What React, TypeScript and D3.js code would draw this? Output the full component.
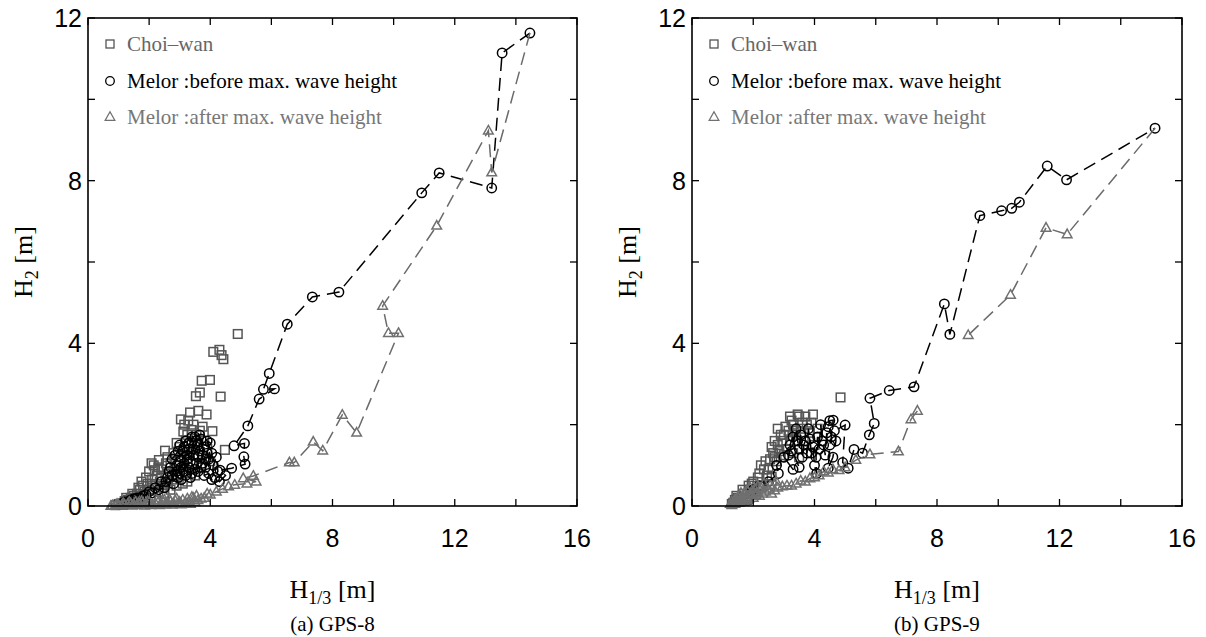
import React from "react";
import * as d3 from "d3";

type P = [number, number] | null;

const xTickVals = [0, 2, 4, 6, 8, 10, 12, 14, 16];
const xTickLabels = [0, 4, 8, 12, 16];
const yTickVals = [0, 2, 4, 6, 8, 10, 12];
const yTickLabels = [0, 4, 8, 12];
const legendLabels = ["Choi–wan", "Melor :before max. wave height", "Melor :after max. wave height"];
const captions = ["(a) GPS-8", "(b) GPS-9"];

// GPS-8 (left)
const gps8Choi: P[] = [
  [4.9, 4.23], [4.1, 3.79], [4.3, 3.84], [4.37, 3.71], [4.43, 3.61], [3.72, 3.08], [3.99, 3.1], [3.66, 2.79],
  [3.53, 2.7], [4.34, 2.69], [3.34, 2.3], [3.61, 2.34], [3.88, 2.25], [3.04, 2.13], [3.28, 2.1], [3.12, 1.83],
  [3.39, 1.87], [3.66, 1.85], [4.07, 1.84], [4.48, 1.38], [2.52, 1.36], [2.32, 1.13], [2.08, 1.05], [2.19, 0.88],
  [3.2, 1.6], [3.5, 1.55], [3.8, 1.6], [3.0, 1.45], [2.8, 1.3], [3.3, 1.3], [3.6, 1.25], [3.9, 1.4],
  [2.7, 1.05], [2.95, 1.0], [3.4, 1.05], [3.7, 1.0], [4.0, 1.1], [2.4, 0.9], [2.6, 0.8], [2.9, 0.75],
  [3.2, 0.8], [3.5, 0.75], [2.1, 0.65], [2.35, 0.6], [2.6, 0.55], [2.9, 0.5], [3.1, 0.55], [1.8, 0.5],
  [2.0, 0.4], [2.3, 0.35], [2.5, 0.3], [1.6, 0.3], [1.8, 0.25], [2.05, 0.2], [1.4, 0.2], [1.6, 0.15],
  [1.2, 0.12], [1.4, 0.08], [1.0, 0.05], [1.15, 0.03], [0.9, 0.02], [2.2, 0.5], [1.9, 0.7], [2.75, 0.65],
  [3.25, 0.6], [2.0, 0.85], [2.25, 0.75], [1.95, 0.55], [2.15, 1.0], [3.45, 2.0], [3.15, 2.0], [3.75, 1.95],
  [1.7, 0.4], [1.5, 0.25], [1.3, 0.15], [1.75, 0.6], [2.45, 0.45], [2.7, 0.4], [2.85, 0.9], [3.05, 1.2],
  [2.55, 1.05], [2.3, 0.95], [1.85, 0.35], [2.1, 0.5], [2.4, 0.7], [1.65, 0.45], [1.45, 0.3], [1.25, 0.2],
  [3.55, 1.75], [3.25, 1.75], [2.9, 1.55], [2.6, 1.2],
];
const gps8Before: P[] = [
  [1.0, 0.05], [1.1, 0.06], [1.2, 0.08], [1.2, 0.1], [1.35, 0.12], [1.4, 0.15], [1.5, 0.18], [1.6, 0.2],
  [1.7, 0.2], [1.8, 0.25], [1.9, 0.28], [2.0, 0.35], [2.1, 0.32], [2.2, 0.45], [2.3, 0.4], [2.5, 0.45],
  [2.4, 0.6], [2.55, 0.6], [2.6, 0.7], [2.8, 0.55], [2.75, 0.75], [2.65, 0.85], [2.7, 0.95], [2.9, 0.85],
  [2.95, 0.7], [3.05, 0.65], [3.0, 0.8], [3.0, 1.1], [2.9, 1.0], [3.05, 0.95], [3.15, 1.05], [2.75, 1.15],
  [2.85, 1.25], [2.95, 1.35], [3.1, 1.35], [3.15, 1.45], [3.0, 1.5], [3.2, 1.6], [3.3, 1.55], [3.3, 1.4],
  [3.25, 1.25], [3.15, 1.2], [3.25, 1.15], [3.35, 1.1], [3.1, 0.9], [3.4, 0.8], [3.35, 0.7], [3.4, 1.55],
  [3.45, 1.4], [3.55, 1.6], [3.5, 1.7], [3.4, 1.7], [3.65, 1.75], [3.6, 1.5], [3.45, 1.25], [3.55, 1.05],
  [3.65, 1.35], [3.7, 1.65], [3.75, 1.25], [3.8, 1.45], [3.6, 1.2], [3.75, 1.05], [3.85, 1.15], [3.9, 1.3],
  [3.95, 1.15], [4.0, 1.55], [3.9, 1.6], [4.05, 1.3], [3.85, 0.95], [3.7, 0.95], [3.5, 0.9], [3.3, 0.95],
  [3.2, 0.75], [3.6, 0.85], [3.8, 0.75], [3.95, 0.8], [4.05, 0.65], [4.1, 1.0], [4.2, 1.2], [4.25, 0.85],
  [4.15, 0.7], [4.3, 0.6], [4.5, 0.75], [4.32, 0.88], [4.7, 0.93], [5.14, 1.03], [5.1, 1.21], [5.12, 1.54],
  [4.78, 1.48], [5.23, 1.97], [5.6, 2.63], [6.1, 2.88], [5.74, 2.87], [5.93, 3.26], [6.52, 4.47], [7.34, 5.14],
  [8.21, 5.26], [10.92, 7.7], [11.49, 8.19], [13.21, 7.82], [13.55, 11.14], [14.46, 11.63],
];
const gps8After: P[] = [
  [14.46, 11.63], [13.21, 8.2], [13.1, 9.23], [11.41, 6.89], [9.64, 4.92], [9.83, 4.25], [10.16, 4.25], [8.79, 1.8],
  [8.32, 2.24], [7.68, 1.36], [7.37, 1.58], [6.75, 1.07], [6.59, 1.07], [5.41, 0.74], [5.08, 0.68], [5.5, 0.6],
  [5.2, 0.55], [4.8, 0.52], [4.6, 0.48], [4.4, 0.42], [4.2, 0.35], [4.0, 0.28], [3.9, 0.3], [3.8, 0.2],
  [3.7, 0.18], [3.6, 0.14], [3.55, 0.25], [3.5, 0.1], [3.45, 0.2], [3.3, 0.12], [3.4, 0.22], [3.35, 0.05],
  [3.2, 0.08], [3.25, 0.18], [3.1, 0.15], [3.0, 0.1], [3.05, 0.04], [2.9, 0.18], [2.95, 0.06], [2.8, 0.06],
  [2.85, 0.14], [2.7, 0.12], [2.75, 0.03], [2.6, 0.08], [2.65, 0.17], [2.5, 0.15], [2.55, 0.04], [2.4, 0.05],
  [2.45, 0.12], [2.3, 0.1], [2.35, 0.02], [2.2, 0.07], [2.25, 0.14], [2.1, 0.04], [2.0, 0.1], [2.05, 0.02],
  [1.9, 0.04], [1.95, 0.12], [1.8, 0.08], [1.85, 0.01], [1.7, 0.06], [1.75, 0.12], [1.6, 0.03], [1.65, 0.08],
  [1.5, 0.03], [1.55, 0.1], [1.4, 0.06], [1.45, 0.01], [1.3, 0.05], [1.35, 0.1], [1.2, 0.03], [1.1, 0.02],
  [1.15, 0.07], [1.0, 0.03], [0.9, 0.01], [0.95, 0.05], [0.8, 0.01], [0.75, 0.0],
];

// GPS-9 (right)
const gps9Choi: P[] = [
  [4.85, 2.67], [3.2, 2.2], [3.45, 2.25], [3.7, 2.2], [3.95, 2.25], [3.3, 2.0], [3.6, 2.05], [2.8, 1.9],
  [3.0, 1.75], [3.2, 1.6], [2.8, 1.5], [3.1, 1.4], [2.9, 1.2], [2.76, 1.1], [3.3, 1.3], [3.5, 1.2],
  [2.4, 1.1], [2.5, 0.9], [2.2, 0.8], [2.6, 0.72], [2.0, 0.6], [2.3, 0.5], [1.9, 0.4], [2.1, 0.3],
  [1.7, 0.3], [1.5, 0.2], [1.6, 0.12], [1.35, 0.08], [1.3, 0.05], [1.8, 0.15], [3.85, 1.8], [4.0, 1.5],
  [4.1, 1.9], [2.95, 1.6], [3.4, 1.75], [3.65, 1.6], [2.65, 1.3], [2.45, 0.75], [2.25, 1.0], [1.95, 0.55],
  [3.05, 1.95], [2.9, 1.75], [2.7, 1.6], [2.6, 1.45], [2.85, 1.35], [3.0, 1.25], [2.7, 1.2], [2.55, 1.15],
  [3.15, 1.85], [3.35, 1.85], [3.55, 1.9], [3.75, 2.0], [3.9, 2.05], [3.5, 2.2], [3.25, 2.1], [2.35, 0.9],
  [2.15, 0.7], [1.85, 0.5], [1.65, 0.4], [1.45, 0.25], [1.4, 0.15], [1.55, 0.1], [1.75, 0.2], [2.0, 0.35],
];
const gps9Before: P[] = [
  [1.8, 0.3], [2.0, 0.4], [2.2, 0.5], [2.5, 0.6], [2.82, 0.8], [2.76, 1.0], [3.0, 1.2], [3.3, 0.9],
  [3.5, 0.95], [3.2, 1.5], [3.3, 1.7], [3.15, 1.25], [3.25, 1.35], [3.4, 1.9], [3.45, 1.6], [3.5, 1.4],
  [3.55, 1.75], [3.6, 1.2], [3.65, 1.5], [3.7, 1.6], [3.75, 1.3], [3.8, 1.9], [3.85, 1.65], [3.9, 1.3],
  [3.95, 1.45], [4.0, 1.0], [4.07, 0.8], [4.05, 1.2], [4.1, 1.7], [4.15, 1.4], [4.2, 2.0], [4.25, 1.6],
  [4.3, 1.5], [4.35, 1.25], [4.4, 1.8], [4.45, 1.95], [4.5, 2.1], [4.61, 2.11], [4.55, 1.7], [4.5, 1.5],
  [4.45, 0.93], [4.6, 1.2], [4.7, 1.6], [4.65, 1.85], [5.0, 1.99], [4.92, 1.07], [5.1, 0.93], [5.29, 1.39],
  [5.57, 1.3], [5.79, 1.75], [5.95, 2.03], [5.81, 2.65], [6.44, 2.84], [7.25, 2.93], [8.24, 4.97], [8.42, 4.22],
  [9.4, 7.14], [10.11, 7.26], [10.44, 7.32], [10.69, 7.47], [11.6, 8.36], [12.23, 8.02], [15.12, 9.29],
];
const gps9After: P[] = [
  [15.12, 9.29], [12.25, 6.68], [11.56, 6.84], [10.4, 5.19], [9.02, 4.2], null, [7.36, 2.34], [7.15, 2.13],
  [6.74, 1.34], [5.81, 1.27], [5.35, 1.13], [5.0, 0.95], [4.8, 0.88], [4.6, 0.9], [4.45, 0.82], [4.3, 0.85],
  [4.15, 0.75], [4.0, 0.7], [3.85, 0.68], [3.7, 0.6], [3.55, 0.62], [3.4, 0.55], [3.25, 0.5], [3.1, 0.5],
  [2.95, 0.48], [2.8, 0.45], [2.75, 0.6], [2.7, 0.38], [2.6, 0.3], [2.55, 0.5], [2.5, 0.4], [2.4, 0.35],
  [2.35, 0.55], [2.3, 0.3], [2.25, 0.45], [2.2, 0.25], [2.15, 0.5], [2.1, 0.32], [2.05, 0.42], [2.0, 0.2],
  [1.95, 0.28], [1.9, 0.3], [1.9, 0.45], [1.85, 0.18], [1.8, 0.15], [1.8, 0.38], [1.75, 0.22], [1.7, 0.1],
  [1.7, 0.3], [1.65, 0.16], [1.6, 0.2], [1.6, 0.32], [1.55, 0.12], [1.5, 0.08], [1.5, 0.22], [1.45, 0.1],
  [1.4, 0.05], [1.4, 0.16], [1.35, 0.07], [1.3, 0.02], [1.25, 0.05],
];

const SQ_COLOR = "#555";
const TRI_COLOR = "#707070";
const LINE_GRAY = "#6a6a6a";
const SERIF = "'Liberation Serif', 'Times New Roman', serif";
const SANS = "'Liberation Sans', Arial, sans-serif";

function Panel({ x0, x1, choi, before, after, caption }: { x0: number; x1: number; choi: P[]; before: P[]; after: P[]; caption: string }) {
  const y0 = 506, y1 = 18;
  const x = d3.scaleLinear().domain([0, 16]).range([x0, x1]);
  const y = d3.scaleLinear().domain([0, 12]).range([y0, y1]);
  const line = d3.line<P>().defined((d) => d !== null).x((d) => x(d![0])).y((d) => y(d![1]));
  const tl = 7;
  const cx = (x0 + x1) / 2;
  const tri = (px: number, py: number) => `M${px},${py - 5.2}L${px + 4.8},${py + 3.3}L${px - 4.8},${py + 3.3}Z`;
  return (
    <g>
      {choi.filter(Boolean).map((d, i) => (
        <rect key={"s" + i} x={x(d![0]) - 4.3} y={y(d![1]) - 4.3} width={8.6} height={8.6} fill="none" stroke={SQ_COLOR} strokeWidth={1.5} />
      ))}
      <path d={line(before) || ""} fill="none" stroke="#000" strokeWidth={1.5} strokeDasharray="13,7" />
      {before.filter(Boolean).map((d, i) => (
        <circle key={"c" + i} cx={x(d![0])} cy={y(d![1])} r={4.7} fill="none" stroke="#000" strokeWidth={1.5} />
      ))}
      <path d={line(after) || ""} fill="none" stroke={LINE_GRAY} strokeWidth={1.5} strokeDasharray="13,7" />
      {after.slice(1).filter(Boolean).map((d, i) => (
        <path key={"t" + i} d={tri(x(d![0]), y(d![1]))} fill="none" stroke={TRI_COLOR} strokeWidth={1.5} />
      ))}
      <rect x={x0} y={y1} width={x1 - x0} height={y0 - y1} fill="none" stroke="#000" strokeWidth={1.6} />
      {xTickVals.map((v) => (
        <g key={"xt" + v}>
          <line x1={x(v)} x2={x(v)} y1={y0} y2={y0 - tl} stroke="#000" strokeWidth={1.3} />
          <line x1={x(v)} x2={x(v)} y1={y1} y2={y1 + tl} stroke="#000" strokeWidth={1.3} />
        </g>
      ))}
      {yTickVals.map((v) => (
        <g key={"yt" + v}>
          <line x1={x0} x2={x0 + tl} y1={y(v)} y2={y(v)} stroke="#000" strokeWidth={1.3} />
          <line x1={x1} x2={x1 - tl} y1={y(v)} y2={y(v)} stroke="#000" strokeWidth={1.3} />
        </g>
      ))}
      {xTickLabels.map((v) => (
        <text key={"xl" + v} x={x(v)} y={y0 + 41} textAnchor="middle" fontFamily={SANS} fontSize={25}>{v}</text>
      ))}
      {yTickLabels.map((v) => (
        <text key={"yl" + v} x={x0 - 6} y={y(v) + 9} textAnchor="end" fontFamily={SANS} fontSize={25}>{v}</text>
      ))}
      <rect x={x0 + 18} y={44 - 4} width={8} height={8} fill="none" stroke={SQ_COLOR} strokeWidth={1.3} />
      <text x={x0 + 39} y={44 + 7} fontFamily={SERIF} fontSize={21} fill="#666">{legendLabels[0]}</text>
      <circle cx={x0 + 22} cy={81} r={4.3} fill="none" stroke="#000" strokeWidth={1.3} />
      <text x={x0 + 39} y={81 + 7} fontFamily={SERIF} fontSize={21} fill="#000">{legendLabels[1]}</text>
      <path d={tri(x0 + 22, 117)} fill="none" stroke={TRI_COLOR} strokeWidth={1.3} />
      <text x={x0 + 39} y={117 + 7} fontFamily={SERIF} fontSize={21} fill="#777">{legendLabels[2]}</text>
      <text x={cx} y={598} textAnchor="middle" fontFamily={SERIF} fontSize={26}>
        H<tspan fontSize={18} dy={6}>1/3</tspan><tspan dy={-6}> [m]</tspan>
      </text>
      <text transform={`translate(${x0 - 56},${(y0 + y1) / 2}) rotate(-90)`} textAnchor="middle" fontFamily={SERIF} fontSize={26}>
        H<tspan fontSize={18} dy={6}>2</tspan><tspan dy={-6}> [m]</tspan>
      </text>
      <text x={cx} y={631} textAnchor="middle" fontFamily={SERIF} fontSize={21}>{caption}</text>
    </g>
  );
}

export default function App() {
  return (
    <svg width={1206} height={637} style={{ position: "absolute", left: 0, top: 0, background: "#fff" }}>
      <rect width={1206} height={637} fill="#fff" />
      <Panel x0={88} x1={577} choi={gps8Choi} before={gps8Before} after={gps8After} caption={captions[0]} />
      <Panel x0={692} x1={1182} choi={gps9Choi} before={gps9Before} after={gps9After} caption={captions[1]} />
    </svg>
  );
}
